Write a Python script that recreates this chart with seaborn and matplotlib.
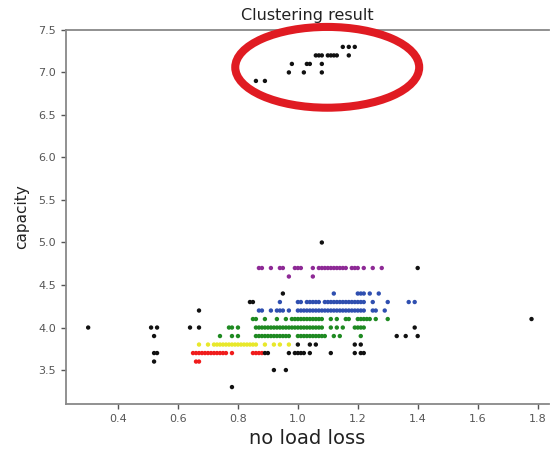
import pandas as pd
import matplotlib
matplotlib.use("Agg")
import matplotlib.pyplot as plt
from matplotlib.patches import Ellipse
import seaborn as sns

# capacity level -> no load loss values, one dict per cluster
purple_rows = {
    4.7: [0.87, 0.88, 0.91, 0.94, 0.95, 0.99, 1.00, 1.01, 1.05, 1.07, 1.08, 1.09, 1.10,
          1.11, 1.12, 1.13, 1.14, 1.15, 1.16, 1.18, 1.19, 1.20, 1.22, 1.25, 1.28],
    4.6: [0.97, 1.05],
}
blue_rows = {
    4.4: [1.12, 1.20, 1.21, 1.22, 1.24, 1.27],
    4.3: [0.94, 1.00, 1.01, 1.03, 1.04, 1.05, 1.06, 1.07, 1.09, 1.10, 1.11, 1.12, 1.13,
          1.14, 1.15, 1.16, 1.17, 1.18, 1.19, 1.20, 1.21, 1.22, 1.25, 1.30, 1.37, 1.39],
    4.2: [0.87, 0.88, 0.91, 0.93, 0.94, 0.95, 0.97, 1.00, 1.01, 1.02, 1.03, 1.04, 1.05,
          1.06, 1.07, 1.08, 1.09, 1.10, 1.11, 1.12, 1.13, 1.14, 1.15, 1.16, 1.17, 1.18,
          1.19, 1.20, 1.21, 1.22, 1.25, 1.26, 1.29],
}
green_rows = {
    4.1: [0.85, 0.86, 0.89, 0.93, 0.96, 0.98, 0.99, 1.00, 1.01, 1.02, 1.03, 1.04, 1.05,
          1.06, 1.07, 1.08, 1.11, 1.13, 1.16, 1.17, 1.20, 1.21, 1.22, 1.23, 1.24, 1.26, 1.30],
    4.0: [0.77, 0.78, 0.80, 0.86, 0.87, 0.88, 0.89, 0.90, 0.91, 0.92, 0.93, 0.94, 0.95,
          0.96, 0.97, 0.98, 0.99, 1.00, 1.01, 1.02, 1.03, 1.04, 1.05, 1.06, 1.07, 1.08,
          1.11, 1.13, 1.15, 1.19, 1.20, 1.21, 1.22],
    3.9: [0.74, 0.78, 0.80, 0.86, 0.87, 0.88, 0.89, 0.90, 0.91, 0.92, 0.93, 0.94, 0.95,
          0.96, 0.97, 1.00, 1.01, 1.02, 1.03, 1.04, 1.05, 1.06, 1.07, 1.08, 1.09, 1.12,
          1.14, 1.21],
}
yellow_rows = {
    3.8: [0.67, 0.70, 0.72, 0.73, 0.74, 0.75, 0.76, 0.77, 0.78, 0.79, 0.80, 0.81, 0.82,
          0.83, 0.84, 0.85, 0.86, 0.89, 0.92, 0.94, 0.97],
}
red_rows = {
    3.7: [0.65, 0.66, 0.67, 0.68, 0.69, 0.70, 0.71, 0.72, 0.73, 0.74, 0.75, 0.76, 0.78,
          0.85, 0.86, 0.87, 0.88],
    3.6: [0.66, 0.67],
}
# points not assigned to any cluster
noise_rows = {
    7.3: [1.15, 1.17, 1.19],
    7.2: [1.06, 1.07, 1.08, 1.10, 1.11, 1.12, 1.13, 1.17],
    7.1: [0.98, 1.03, 1.04, 1.08],
    7.0: [0.97, 1.02, 1.08],
    6.9: [0.86, 0.89],
    5.0: [1.08],
    4.7: [1.40],
    4.4: [0.95],
    4.3: [0.84, 0.85],
    4.2: [0.67],
    4.1: [1.78],
    4.0: [0.30, 0.51, 0.53, 0.64, 0.67, 1.39],
    3.9: [0.52, 1.33, 1.36, 1.40],
    3.8: [1.00, 1.04, 1.06, 1.19, 1.21],
    3.7: [0.52, 0.53, 0.89, 0.90, 0.97, 0.99, 1.00, 1.01, 1.02, 1.04, 1.11, 1.19, 1.21, 1.22],
    3.6: [0.52],
    3.5: [0.92, 0.96],
    3.3: [0.78],
}

clusters = {
    "purple": purple_rows,
    "blue": blue_rows,
    "green": green_rows,
    "yellow": yellow_rows,
    "red": red_rows,
    "noise": noise_rows,
}
palette = {
    "purple": "#8e2a96",
    "blue": "#2f4fb0",
    "green": "#1f8a22",
    "yellow": "#e8e82a",
    "red": "#f01c1c",
    "noise": "#111111",
}

records = []
for name, rows in clusters.items():
    for cap, losses in rows.items():
        for loss in losses:
            records.append({"no load loss": loss, "capacity": cap, "cluster": name})
df = pd.DataFrame(records)

sns.set_style("ticks")
plt.rcParams["font.family"] = ["DejaVu Sans"]

fig = plt.figure(figsize=(5.5, 4.53), dpi=100)
ax = fig.add_axes([0.12, 0.108, 0.878, 0.826])

sns.scatterplot(data=df, x="no load loss", y="capacity", hue="cluster",
                palette=palette, s=10, linewidth=0, legend=False, ax=ax)

ax.set_xlim(0.226, 1.838)
ax.set_ylim(3.1, 7.5)
ax.set_xticks([0.4, 0.6, 0.8, 1.0, 1.2, 1.4, 1.6, 1.8])
ax.set_yticks([3.5, 4.0, 4.5, 5.0, 5.5, 6.0, 6.5, 7.0, 7.5])

ax.set_title("Clustering result", fontsize=11.5, color="#222222", pad=7)
ax.set_xlabel("no load loss", fontsize=14, color="#222222")
ax.set_ylabel("capacity", fontsize=11, color="#222222", labelpad=7)
ax.tick_params(labelsize=8, colors="#555555", length=3.5, width=1)
for side in ["left", "bottom", "top"]:
    ax.spines[side].set_color("#888888")
    ax.spines[side].set_linewidth(1.3)
ax.spines["right"].set_visible(False)

# hand-drawn highlight around the high-capacity group
ring_center = (1.098, 7.06)
ring_width = 0.614
ring_height = 0.95
ax.add_patch(Ellipse(ring_center, ring_width, ring_height, fill=False,
                     edgecolor="#e01b22", linewidth=5.8, clip_on=False, zorder=5))

fig.savefig("out.png", dpi=100)
